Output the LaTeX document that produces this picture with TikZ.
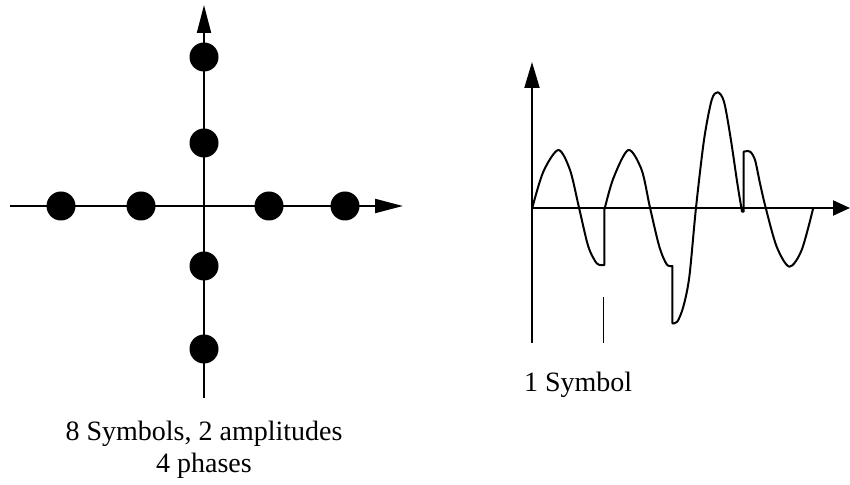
\documentclass[tikz,border=0pt]{standalone}
\usepackage{fontspec}
\setmainfont{Liberation Serif}
\usetikzlibrary{arrows.meta, positioning}

\begin{document}
\begin{tikzpicture}[x=0.5pt, y=-0.5pt,
    axis/.style={line width=1pt, -{Triangle[length=14pt, width=7pt]}},
    sym/.style={circle, fill=black, inner sep=0pt, minimum size=14.5pt},
    wave/.style={line width=1pt, line join=round},
    label/.style={font=\fontsize{14}{16}\selectfont, align=center}
]
\useasboundingbox (0,0) rectangle (850,485);

% constellation
\coordinate (xl) at (10,206);
\coordinate (xr) at (403,206);
\coordinate (yb) at (204,398);
\coordinate (yt) at (204,5);
\draw[axis] (xl) -- (xr);
\draw[axis] (yb) -- (yt);
\foreach \n/\x in {s1/61, s2/141, s3/269, s4/345}
    \node[sym] (\n) at (\x,206) {};
\foreach \n/\y in {s5/57, s6/143, s7/266, s8/349}
    \node[sym] (\n) at (204,\y) {};
\node[label, anchor=base] (constel) at (204,473) {8 Symbols, 2 amplitudes\\4 phases};

% time signal
\coordinate (t0) at (532,208);
\coordinate (tx) at (850,208);
\coordinate (tb) at (532,343);
\coordinate (ty) at (532,62);
\coordinate (m0) at (603,343);
\coordinate (m1) at (603,297);
\draw[axis, -{Triangle[length=13pt, width=7.5pt]}] (tb) -- (ty);
\draw[axis, -{Triangle[length=8.5pt, width=7.5pt]}] (t0) -- (tx);
\draw[line width=0.5pt] (m0) -- (m1);
\node[label, anchor=base west] (symlen) at (517,392) {1 Symbol};

\begin{scope}[shift={(500,50)}, scale=1/3]
\draw[wave] plot[smooth] coordinates {(97,473) (130,365) (175,300) (210,360) (237,473) (265,590) (290,640) (305,645) (313,645)}
    -- (313,480)
    -- plot[smooth] coordinates {(313,480) (340,385) (385,300) (425,360) (450,473) (478,590) (500,643) (517,648)}
    -- (517,820)
    -- plot[smooth] coordinates {(517,820) (532,815) (550,770) (568,680) (588,473) (612,270) (635,150) (653,127) (672,155) (692,265) (712,400) (726,485)}
    -- (731,485) -- (731,305)
    -- plot[smooth] coordinates {(731,305) (750,305) (765,330) (780,400) (797,473) (830,590) (868,650) (905,600) (940,473)};
\end{scope}
\end{tikzpicture}
\end{document}
